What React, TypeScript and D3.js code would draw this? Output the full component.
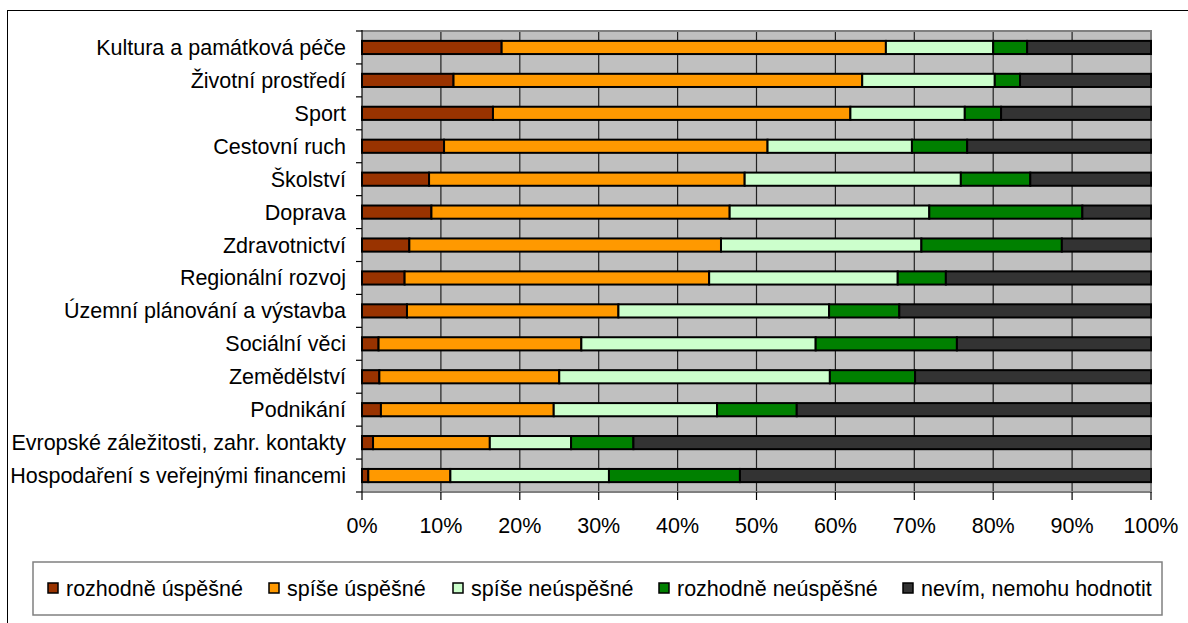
import React from "react";
import * as d3 from "d3";

// Hodnocení úspěšnosti oblastí (podíly odpovědí, %)
const categories = [
  "Kultura a památková péče",
  "Životní prostředí",
  "Sport",
  "Cestovní ruch",
  "Školství",
  "Doprava",
  "Zdravotnictví",
  "Regionální rozvoj",
  "Územní plánování a výstavba",
  "Sociální věci",
  "Zemědělství",
  "Podnikání",
  "Evropské záležitosti, zahr. kontakty",
  "Hospodaření s veřejnými financemi",
];

const rozhodneUspesne = [17.7, 11.6, 16.6, 10.4, 8.5, 8.8, 6.0, 5.4, 5.7, 2.1, 2.2, 2.4, 1.4, 0.8];
const spiseUspesne = [48.7, 51.8, 45.3, 41.0, 40.0, 37.8, 39.5, 38.6, 26.8, 25.7, 22.8, 21.9, 14.8, 10.4];
const spiseNeuspesne = [13.6, 16.8, 14.5, 18.3, 27.4, 25.3, 25.4, 23.9, 26.7, 29.7, 34.3, 20.7, 10.3, 20.1];
const rozhodneNeuspesne = [4.3, 3.2, 4.6, 7.0, 8.8, 19.4, 17.8, 6.1, 8.9, 17.9, 10.8, 10.1, 7.9, 16.6];
const nevim = [15.7, 16.6, 19.0, 23.3, 15.3, 8.7, 11.3, 26.0, 31.9, 24.6, 29.9, 44.9, 65.6, 52.1];

const seriesNames = [
  "rozhodně úspěšné",
  "spíše úspěšné",
  "spíše neúspěšné",
  "rozhodně neúspěšné",
  "nevím, nemohu hodnotit",
];
const seriesValues = [rozhodneUspesne, spiseUspesne, spiseNeuspesne, rozhodneNeuspesne, nevim];
const seriesColors = ["#993300", "#FF9900", "#CCFFCC", "#008000", "#333333"];

const xTicks = [0, 0.1, 0.2, 0.3, 0.4, 0.5, 0.6, 0.7, 0.8, 0.9, 1];

const W = 1188;
const H = 623;
const FONT = "'Liberation Sans', Arial, sans-serif";
const FS = 21.5;

const plot = { left: 362, right: 1151, top: 31, bottom: 492 };
const legendBox = { x: 33, y: 562, w: 1129, h: 53 };
const legendX = [48, 269, 453, 659, 903];

export default function App() {
  const rows = categories.map((c, i) => {
    const r: Record<string, any> = { category: c };
    seriesNames.forEach((s, k) => (r[s] = seriesValues[k][i]));
    return r;
  });

  const stack = d3.stack<any>().keys(seriesNames).offset(d3.stackOffsetExpand);
  const layers = stack(rows);

  const x = d3.scaleLinear().domain([0, 1]).range([plot.left, plot.right]);
  const y = d3
    .scaleBand<string>()
    .domain(categories)
    .range([plot.top, plot.bottom])
    .paddingInner(0.6)
    .paddingOuter(0.3);
  const step = y.step();
  const fmt = d3.format(".0%");

  return (
    <svg
      width={W}
      height={H}
      style={{ position: "absolute", left: 0, top: 0, background: "#fff" }}
      fontFamily={FONT}
    >
      {/* chart frame */}
      <rect x={7.5} y={10.5} width={W + 20} height={H + 20} fill="#fff" stroke="#000" strokeWidth={1} />

      {/* plot area */}
      <rect
        x={plot.left}
        y={plot.top}
        width={plot.right - plot.left}
        height={plot.bottom - plot.top}
        fill="#C0C0C0"
      />
      {xTicks.slice(1, -1).map((t) => (
        <line key={"g" + t} x1={x(t)} x2={x(t)} y1={plot.top} y2={plot.bottom} stroke="#222" strokeWidth={1.2} />
      ))}
      {/* plot border (top / right / bottom) */}
      <path
        d={`M${plot.left},${plot.top}H${plot.right}V${plot.bottom}H${plot.left}`}
        fill="none"
        stroke="#808080"
        strokeWidth={2}
      />

      {/* bars */}
      {layers.map((layer, k) => (
        <g key={seriesNames[k]}>
          {layer.map((d, i) => (
            <rect
              key={i}
              x={x(d[0])}
              y={y(categories[i])}
              width={Math.max(0, x(d[1]) - x(d[0]))}
              height={y.bandwidth()}
              fill={seriesColors[k]}
              stroke="#000"
              strokeWidth={2}
            />
          ))}
        </g>
      ))}

      {/* y axis */}
      <line x1={plot.left} x2={plot.left} y1={plot.top - 1} y2={plot.bottom} stroke="#000" strokeWidth={1.2} />
      {categories.map((c, i) => (
        <line
          key={"yt" + i}
          x1={plot.left - 6}
          x2={plot.left}
          y1={plot.top + i * step}
          y2={plot.top + i * step}
          stroke="#000"
          strokeWidth={1.2}
        />
      ))}
      <line x1={plot.left - 6} x2={plot.left} y1={plot.bottom} y2={plot.bottom} stroke="#000" strokeWidth={1.2} />
      {categories.map((c) => (
        <text
          key={"yl" + c}
          x={346}
          y={(y(c) as number) + y.bandwidth() / 2}
          dy="0.35em"
          textAnchor="end"
          fontSize={FS}
          fill="#000"
        >
          {c}
        </text>
      ))}

      {/* x axis */}
      {xTicks.map((t) => (
        <g key={"xt" + t}>
          <line x1={x(t)} x2={x(t)} y1={plot.bottom} y2={plot.bottom + 8} stroke="#000" strokeWidth={1.2} />
          <text x={x(t)} y={533} textAnchor="middle" fontSize={FS} fill="#000">
            {fmt(t)}
          </text>
        </g>
      ))}

      {/* legend */}
      <rect
        x={legendBox.x}
        y={legendBox.y}
        width={legendBox.w}
        height={legendBox.h}
        fill="#fff"
        stroke="#808080"
        strokeWidth={1.5}
      />
      {seriesNames.map((s, k) => (
        <g key={"lg" + s}>
          <rect x={legendX[k]} y={583} width={10} height={10} fill={seriesColors[k]} stroke="#000" strokeWidth={1.5} />
          <text x={legendX[k] + 18} y={595.5} fontSize={FS} fill="#000">
            {s}
          </text>
        </g>
      ))}
    </svg>
  );
}
